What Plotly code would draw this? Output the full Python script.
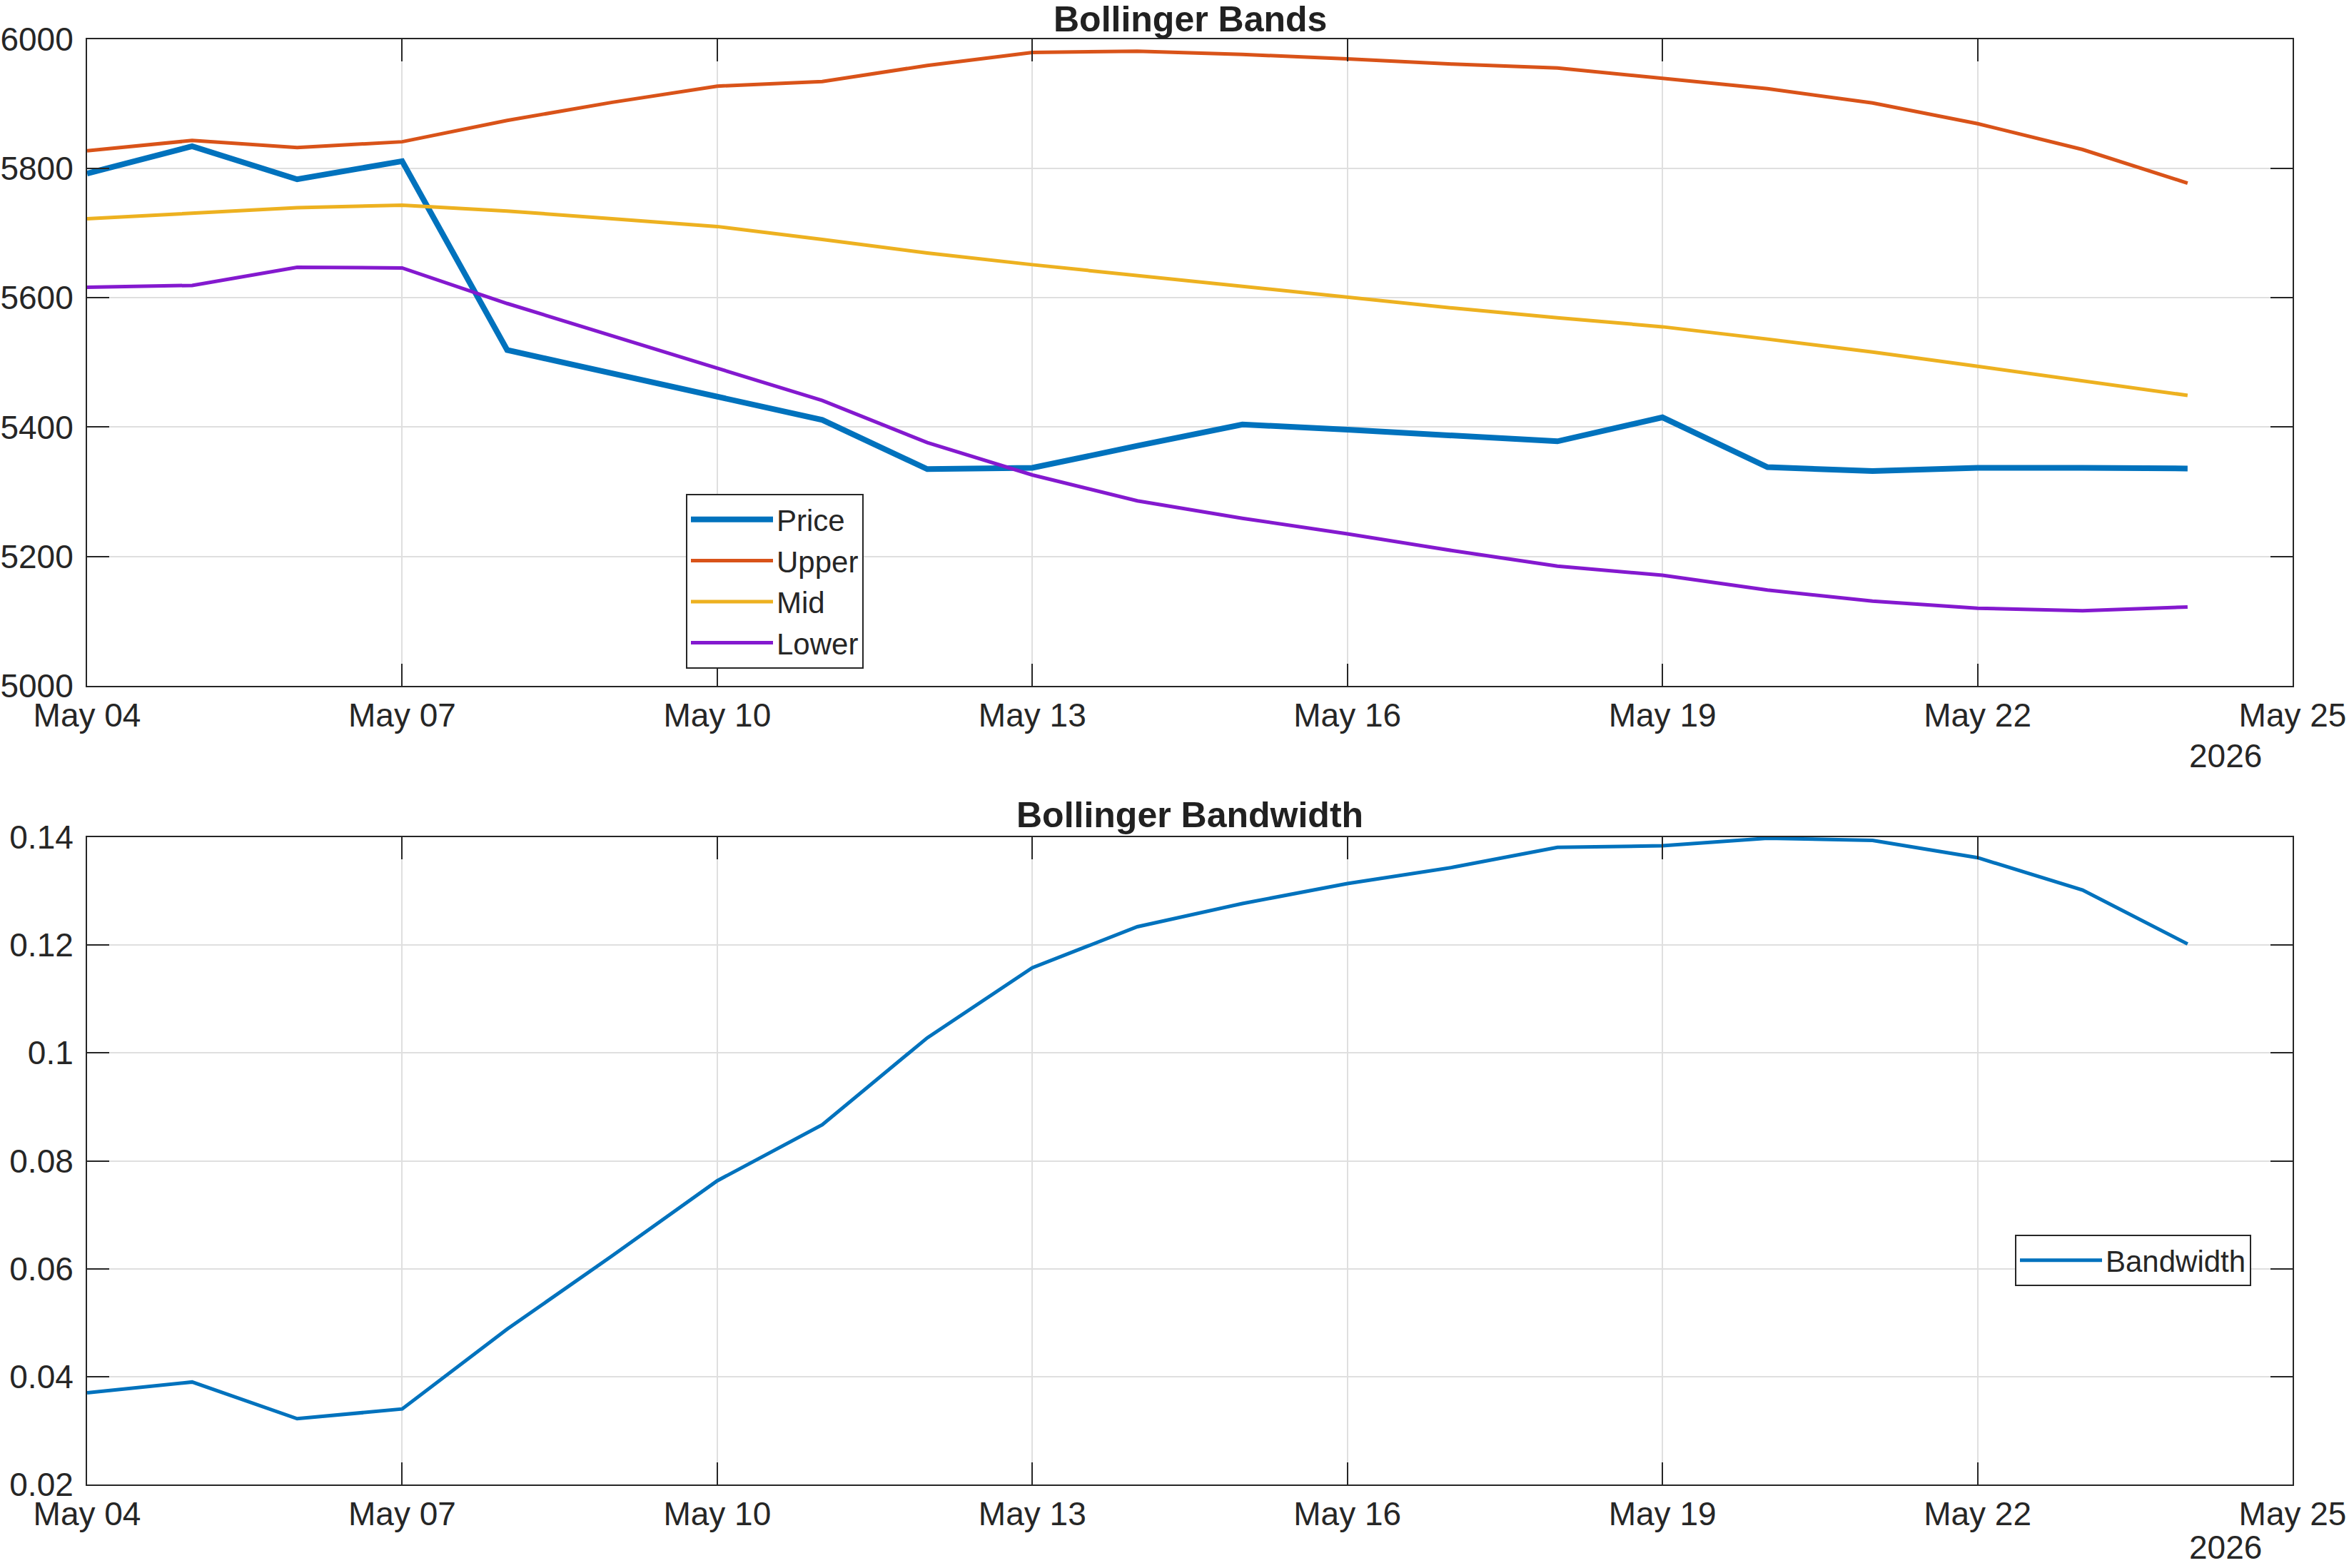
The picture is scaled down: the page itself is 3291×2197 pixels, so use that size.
import plotly.graph_objects as go

# ---------------- data ----------------
dates = ["2026-05-%02d" % d for d in range(4, 25)]
price = [5792, 5834, 5783, 5811, 5519, 5483, 5447, 5411, 5335, 5337, 5371,
         5404, 5396, 5387, 5378, 5415, 5338, 5332, 5337, 5337, 5336]
upper = [5827, 5843, 5832, 5841, 5874, 5902, 5927, 5934, 5959, 5979, 5981,
         5976, 5969, 5961, 5955, 5939, 5923, 5901, 5869, 5829, 5777]
mid = [5722, 5730, 5739, 5743, 5734, 5722, 5710, 5690, 5669, 5651, 5634,
       5617, 5600, 5584, 5569, 5555, 5536, 5516, 5494, 5472, 5449]
lower = [5616, 5619, 5647, 5646, 5591, 5541, 5492, 5441, 5376, 5326, 5286,
         5259, 5235, 5209, 5185, 5171, 5148, 5131, 5120, 5116, 5122]
bandwidth = [0.0370, 0.0390, 0.0322, 0.0340, 0.0488, 0.0624, 0.0763, 0.0867,
             0.1028, 0.1158, 0.1234, 0.1277, 0.1314, 0.1344, 0.1381, 0.1384,
             0.1398, 0.1394, 0.1362, 0.1302, 0.1202]

price_ticks = [5000, 5200, 5400, 5600, 5800, 6000]
price_ticktext = ["5000", "5200", "5400", "5600", "5800", "6000"]
bw_ticks = [0.02, 0.04, 0.06, 0.08, 0.10, 0.12, 0.14]
bw_ticktext = ["0.02", "0.04", "0.06", "0.08", "0.1", "0.12", "0.14"]
x_range = ["2026-05-04", "2026-05-25"]

# ---------------- styling ----------------
W, H = 3291, 2197
FONT = "Liberation Sans, Arial, Helvetica, sans-serif"
AX = "#262626"
GRID = "#DFDFDF"
C_PRICE = "#0072BD"
C_UP = "#D95319"
C_MID = "#EDB120"
C_LOW = "#8419CF"

left, right = 122, 3212
top1, bot1 = 54.5, 961
top2, bot2 = 1173, 2080

fig = go.Figure()
fig.add_trace(go.Scatter(x=dates, y=price, name="Price", mode="lines",
                         line=dict(color=C_PRICE, width=8), xaxis="x", yaxis="y"))
fig.add_trace(go.Scatter(x=dates, y=upper, name="Upper", mode="lines",
                         line=dict(color=C_UP, width=5), xaxis="x", yaxis="y"))
fig.add_trace(go.Scatter(x=dates, y=mid, name="Mid", mode="lines",
                         line=dict(color=C_MID, width=5), xaxis="x", yaxis="y"))
fig.add_trace(go.Scatter(x=dates, y=lower, name="Lower", mode="lines",
                         line=dict(color=C_LOW, width=5), xaxis="x", yaxis="y"))
fig.add_trace(go.Scatter(x=dates, y=bandwidth, name="Bandwidth", mode="lines",
                         line=dict(color=C_PRICE, width=5), xaxis="x2", yaxis="y2",
                         legend="legend2"))

xcommon = dict(type="date", range=x_range, tick0="2026-05-04", dtick=3 * 86400000,
               tickformat="%b %d", showgrid=True, gridcolor=GRID, gridwidth=2,
               showline=True, linecolor=AX, linewidth=2, mirror="ticks",
               ticks="inside", ticklen=31, tickwidth=2, tickcolor=AX,
               tickfont=dict(family=FONT, size=46, color=AX),
               ticklabelstandoff=0, zeroline=False, fixedrange=True,
               automargin=False)
ycommon = dict(showgrid=True, gridcolor=GRID, gridwidth=2,
               showline=True, linecolor=AX, linewidth=2, mirror="ticks",
               ticks="inside", ticklen=31, tickwidth=2, tickcolor=AX,
               tickfont=dict(family=FONT, size=46, color=AX),
               ticklabelstandoff=8, zeroline=False, fixedrange=True,
               automargin=False)

fig.update_layout(
    width=W, height=H,
    margin=dict(l=0, r=0, t=0, b=0, autoexpand=False),
    paper_bgcolor="white", plot_bgcolor="white",
    showlegend=True,
    xaxis=dict(domain=[left / W, right / W], anchor="y", **xcommon),
    yaxis=dict(domain=[1 - bot1 / H, 1 - top1 / H], anchor="x",
               range=[5000, 6000], tickvals=price_ticks, ticktext=price_ticktext,
               **ycommon),
    xaxis2=dict(domain=[left / W, right / W], anchor="y2", **xcommon),
    yaxis2=dict(domain=[1 - bot2 / H, 1 - top2 / H], anchor="x2",
                range=[0.02, 0.14], tickvals=bw_ticks, ticktext=bw_ticktext,
                **ycommon),
    legend=dict(x=961 / W, y=1 - 692 / H, xanchor="left", yanchor="top",
                bgcolor="white", bordercolor=AX, borderwidth=2,
                font=dict(family=FONT, size=42, color=AX),
                itemwidth=115, tracegroupgap=0),
    legend2=dict(x=2823 / W, y=1 - 1730 / H, xanchor="left", yanchor="top",
                 bgcolor="white", bordercolor=AX, borderwidth=2,
                 font=dict(family=FONT, size=42, color=AX),
                 itemwidth=115),
    annotations=[
        dict(text="<b>Bollinger Bands</b>", x=(left + right) / 2 / W, y=1 - 27 / H,
             xref="paper", yref="paper", xanchor="center", yanchor="middle",
             showarrow=False, font=dict(family=FONT, size=50, color="#212121")),
        dict(text="<b>Bollinger Bandwidth</b>", x=(left + right) / 2 / W, y=1 - 1142 / H,
             xref="paper", yref="paper", xanchor="center", yanchor="middle",
             showarrow=False, font=dict(family=FONT, size=50, color="#212121")),
        dict(text="2026", x=3171 / W, y=1 - 1059 / H, xref="paper", yref="paper",
             xanchor="right", yanchor="middle", showarrow=False,
             font=dict(family=FONT, size=46, color=AX)),
        dict(text="2026", x=3171 / W, y=1 - 2168 / H, xref="paper", yref="paper",
             xanchor="right", yanchor="middle", showarrow=False,
             font=dict(family=FONT, size=46, color=AX)),
    ],
)

fig.write_html("out.html")
